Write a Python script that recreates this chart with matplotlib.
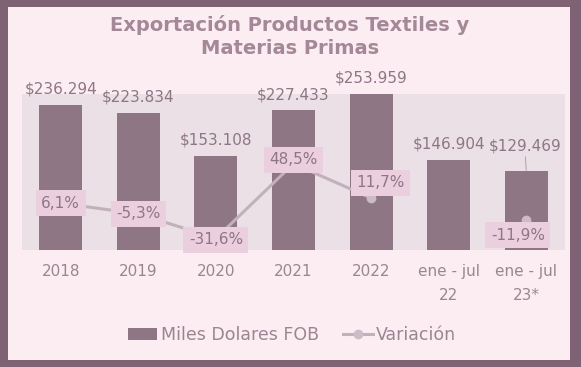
import numpy as np
import matplotlib.pyplot as plt
from matplotlib.patches import Rectangle

categorias = ["2018", "2019", "2020", "2021", "2022", "ene - jul\n22", "ene - jul\n23*"]
miles_fob = [236.294, 223.834, 153.108, 227.433, 253.959, 146.904, 129.469]
etiquetas_fob = ["$236.294", "$223.834", "$153.108", "$227.433", "$253.959", "$146.904", "$129.469"]
variacion = [6.1, -5.3, -31.6, 48.5, 11.7, np.nan, -11.9]
etiquetas_var = ["6,1%", "-5,3%", "-31,6%", "48,5%", "11,7%", "", "-11,9%"]

borde = "#7F6273"
fondo = "#FBEDF2"
fondo_plot = "#EAE0E6"
color_barra = "#8E7684"
color_texto = "#9C8592"
color_linea = "#C2B1BA"
caja = "#EBCFDE"

plt.rcParams['font.family'] = ['DejaVu Sans']

fig = plt.figure(figsize=(5.81, 3.67), dpi=100, facecolor=borde)
fig.add_artist(Rectangle((8 / 581, 7 / 367), (570 - 8) / 581, (360 - 7) / 367,
                         transform=fig.transFigure, facecolor=fondo, edgecolor='none', zorder=-10))

ax = fig.add_axes([22 / 581, 1 - 250 / 367, (565 - 22) / 581, (250 - 94) / 367])
ax.set_facecolor(fondo_plot)
x = np.arange(len(categorias))
ax.bar(x, miles_fob, width=0.555, color=color_barra, label="Miles Dolares FOB", zorder=2)
ax.set_xlim(-0.5, 6.5)
ax.set_ylim(0, 254.2)
ax.set_yticks([])
ax.set_xticks(x)
ax.set_xticklabels(categorias, color=color_texto, fontsize=11, linespacing=1.75)
ax.tick_params(axis='x', length=0, pad=10)
for s in ax.spines.values():
    s.set_visible(False)

for i, (v, t) in enumerate(zip(miles_fob, etiquetas_fob)):
    if i == 6:
        ax.annotate(t, xy=(i, v), xytext=(-1, 12), textcoords='offset points',
                    ha='center', va='bottom', fontsize=11, color=color_barra,
                    annotation_clip=False,
                    arrowprops=dict(arrowstyle='-', color='#A8949F', lw=0.6,
                                    shrinkA=0, shrinkB=0))
    else:
        ax.annotate(t, xy=(i, v), xytext=(0, 6), textcoords='offset points',
                    ha='center', va='bottom', fontsize=11, color=color_barra,
                    annotation_clip=False)

ax2 = ax.twinx()
ax2.set_ylim(-44.1, 123.3)
ax2.set_yticks([])
for s in ax2.spines.values():
    s.set_visible(False)
ax2.plot(x, variacion, color=color_linea, lw=2.2, marker='o', markersize=6,
         markerfacecolor='#CDBCC6', markeredgecolor='#CDBCC6', label="Variación", zorder=3)

offsets = [(0, 0), (0, 0), (0, -1), (0, 3), (7, 11), None, (-6, -11)]
for i, (v, t) in enumerate(zip(variacion, etiquetas_var)):
    if offsets[i] is None:
        continue
    ax2.annotate(t, xy=(i, v), xytext=offsets[i], textcoords='offset points',
                 ha='center', va='center', fontsize=11, color=color_barra, zorder=5,
                 annotation_clip=False,
                 bbox=dict(boxstyle='square,pad=0.36', facecolor=caja, edgecolor='none'))

fig.text(290 / 581, 1 - 25 / 367, "Exportación Productos Textiles y", ha='center', va='center',
         fontsize=14, fontweight='bold', color="#A48897")
fig.text(290 / 581, 1 - 48 / 367, "Materias Primas", ha='center', va='center',
         fontsize=14, fontweight='bold', color="#A48897")

h1, l1 = ax.get_legend_handles_labels()
h2, l2 = ax2.get_legend_handles_labels()
fig.legend(h1 + h2, l1 + l2, loc='center', bbox_to_anchor=(292 / 581, 1 - 335 / 367),
           ncol=2, frameon=False, fontsize=12.5, labelcolor=color_texto,
           handlelength=1.7, handletextpad=0.2, columnspacing=1.4)

fig.savefig("out.png", dpi=100, facecolor=borde)
